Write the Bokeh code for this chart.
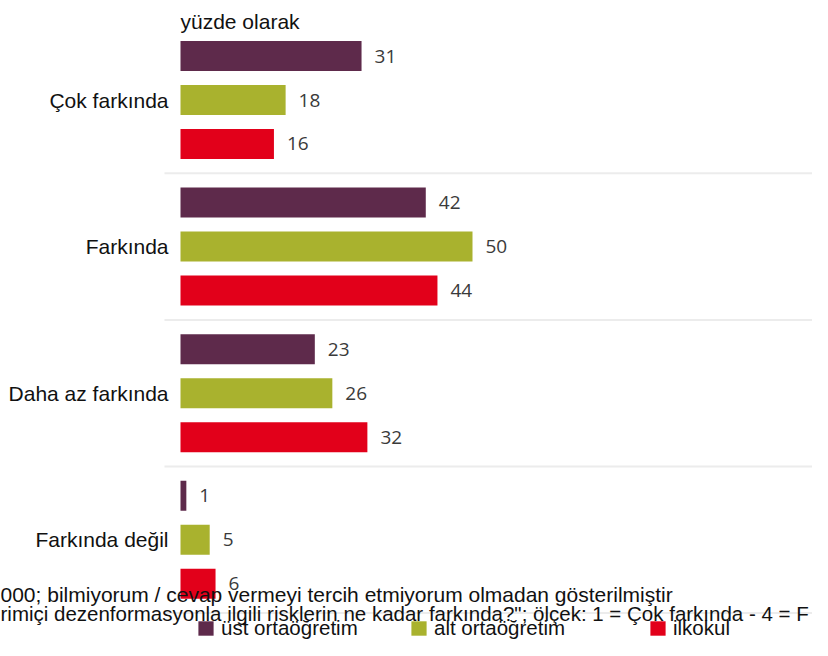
from bokeh.plotting import figure
from bokeh.models import Range1d, Label, Legend, LegendItem, ColumnDataSource
from bokeh.core.properties import value
from bokeh.embed import file_html
from bokeh.resources import INLINE

categories = ["Çok farkında", "Farkında", "Daha az farkında", "Farkında değil"]
series_names = ["üst ortaöğretim", "alt ortaöğretim", "ilkokul"]
ust_ortaogretim = [31, 42, 23, 1]
alt_ortaogretim = [18, 50, 26, 5]
ilkokul = [16, 44, 32, 6]
colors = ["#5E2A4B", "#A9B22E", "#E2001A"]
subtitle = "yüzde olarak"
note1 = "000; bilmiyorum / cevap vermeyi tercih etmiyorum olmadan gösterilmiştir"
note2 = "rimiçi dezenformasyonla ilgili risklerin ne kadar farkında?\"; ölçek: 1 = Çok farkında - 4 = F"

W, H = 812, 640
PX_PER_UNIT = 5.84
X0 = 180
PITCH = 146.6
Y0 = 99.5
FONT = "Liberation Sans"

p = figure(width=W, height=H, output_backend="svg", toolbar_location=None,
           min_border=0, x_axis_type=None, y_axis_type=None)
p.x_range = Range1d(-X0 / PX_PER_UNIT, (W - X0) / PX_PER_UNIT)
p.y_range = Range1d((H - Y0) / PITCH, -Y0 / PITCH)
p.grid.visible = False
p.outline_line_color = None
p.background_fill_color = "white"
p.border_fill_color = "white"

idx = list(range(len(categories)))
# separators between groups
p.segment(x0=[-16 / PX_PER_UNIT] * 4, x1=[200] * 4,
          y0=[i + 0.5 for i in idx], y1=[i + 0.5 for i in idx],
          line_color="#ececec", line_width=2)

offsets = [-0.3, 0.0, 0.3]
bar_h = 30 / PITCH
renderers = []
for vals, off, col in zip([ust_ortaogretim, alt_ortaogretim, ilkokul], offsets, colors):
    src = ColumnDataSource(dict(y=[i + off for i in idx], v=vals,
                                t=[str(v) for v in vals]))
    r = p.hbar(y="y", left=0, right="v", height=bar_h, source=src,
               fill_color=col, line_color=None)
    renderers.append(r)
    p.text(x="v", y="y", text="t", source=src, x_offset=13,
           text_baseline="middle", text_align="left",
           text_font=value("Open Sans"), text_font_size="19px",
           text_color="#3a3a3a")

csrc = ColumnDataSource(dict(x=[0] * 4, y=idx, t=categories))
p.text(x="x", y="y", text="t", source=csrc, x_offset=-12,
       text_align="right", text_baseline="middle",
       text_font=value(FONT), text_font_size="21px",
       text_color="#111111")

p.add_layout(Label(x=X0, y=H - 21, x_units="screen", y_units="screen",
                   text=subtitle, text_font=FONT,
                   text_font_size="21px", text_color="#111111",
                   text_baseline="alphabetic"))
p.add_layout(Label(x=0, y=H - 594, x_units="screen", y_units="screen",
                   text=note1, text_font=FONT,
                   text_font_size="21px", text_color="#111111",
                   text_baseline="alphabetic"))
p.add_layout(Label(x=0, y=H - 613, x_units="screen", y_units="screen",
                   text=note2, text_font=FONT,
                   text_font_size="20.5px", text_color="#111111",
                   text_baseline="alphabetic"))

legend_x = [196, 409, 648]
for name, r, lx in zip(series_names, renderers, legend_x):
    lg = Legend(items=[LegendItem(label=name, renderers=[r])],
                location=(lx, 0), orientation="horizontal",
                glyph_width=19, glyph_height=18, label_standoff=6,
                label_text_font=FONT, label_text_font_size="20.5px",
                label_text_color="#111111", label_height=18,
                padding=0, margin=0, spacing=0,
                background_fill_alpha=0, border_line_alpha=0)
    p.add_layout(lg, "center")

open("out.html", "w").write(file_html(p, INLINE))
